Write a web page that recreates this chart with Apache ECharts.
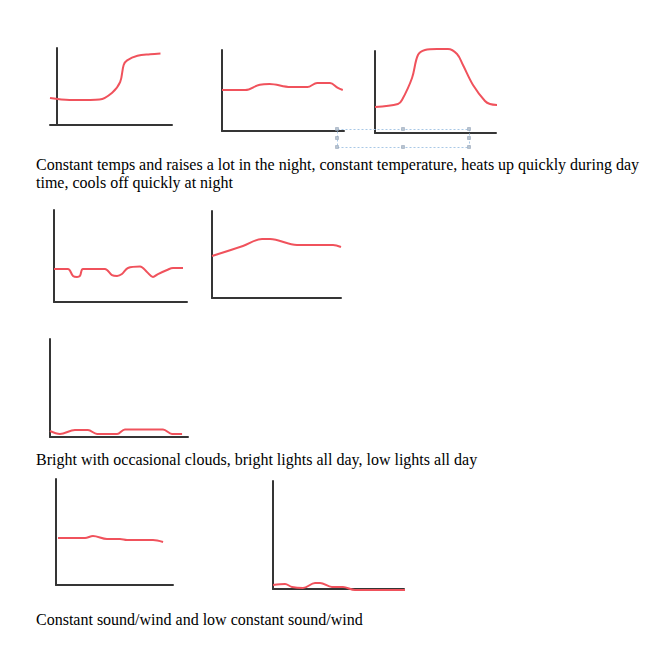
<!DOCTYPE html>
<html>
<head>
<meta charset="utf-8">
<script src="https://cdn.jsdelivr.net/npm/echarts@6/dist/echarts.min.js"></script>
<style>
html,body{margin:0;padding:0;background:#fff;}
#c{width:647px;height:653px;}
</style>
</head>
<body>
<div id="c"></div>
<script>
// ---- data (x: time 0-100, y: level 0-100) ----
const tempNightRise = [[-6,35],[11,32.5],[29,32.5],[37,33],[48,42],[55,56],[58,78],[61,84],[70,90],[81,92],[90,93]];
const tempConstant = [[0,50.6],[19,50.6],[31,57.2],[39,58],[56,54.3],[70,54.3],[78,59.3],[88.5,59.3],[95,53.1],[99,50.6]];
const tempDayHeat = [[0,31.7],[19,35.4],[22.3,40.2],[30.6,67.1],[35.5,95.1],[41.3,101.2],[51.2,102.4],[60.3,102.4],[67.8,96.3],[72.7,82.9],[81,58.5],[90.9,39],[95,35.4],[101.7,34.1]];
const lightClouds = [[0,35.9],[10.5,35.9],[14.3,28.3],[17.3,27.2],[19.5,28.3],[21.8,35.9],[38.3,35.9],[43.6,29.3],[47.4,28.3],[51.1,30.4],[55.6,37],[64.7,38.6],[69.9,32.6],[74.4,27.2],[78.2,30.4],[85,34.8],[89.5,37],[97,37]];
const lightBright = [[0,48.3],[24,59.8],[38.8,67.8],[45,67.8],[65.9,60.9],[93.8,60.9],[100,58.6]];
const lightLow = [[0,6.1],[7.2,3.1],[18.1,7.1],[27.5,7.1],[34.1,3.1],[48.6,3.1],[54.3,7.7],[81.9,7.7],[88.4,3.1],[95.7,3.1]];
const soundConstant = [[1.7,44.3],[24.8,44.3],[31.6,46.2],[43.6,43.4],[54.7,43.4],[60.7,42.5],[82.9,42.5],[91.5,40.6]];
const soundLow = [[0,3.7],[9.2,4.6],[14.5,1.9],[22.9,0.9],[32.1,5.6],[35.9,5.6],[45,1.9],[53.4,1.9],[62.6,-0.9],[106.9,-0.9]];

const captions = [
  "Constant temps and raises a lot in the night, constant temperature, heats up quickly during day\ntime, cools off quickly at night",
  "Bright with occasional clouds, bright lights all day, low lights all day",
  "Constant sound/wind and low constant sound/wind"
];

const seriesData = [tempNightRise, tempConstant, tempDayHeat, lightClouds, lightBright, lightLow, soundConstant, soundLow];
// panel layout
const panels = [
  {left:50, top:48, width:122, height:77, xMin:-6, yOffset:-7},
  {left:222, top:50, width:122, height:81, xMin:0, yOffset:0},
  {left:375, top:51, width:121, height:82, xMin:0, yOffset:0},
  {left:54, top:210, width:133, height:92, xMin:0, yOffset:0},
  {left:212, top:211, width:129, height:87, xMin:0, yOffset:0},
  {left:50, top:339, width:138, height:98, xMin:0, yOffset:0},
  {left:56, top:479, width:117, height:106, xMin:0, yOffset:0},
  {left:273, top:481, width:131, height:108, xMin:0, yOffset:0}
];

const axisLine = {show:true, onZero:false, lineStyle:{color:'#353535', width:2}};
const grid = [], xAxis = [], yAxis = [], series = [];
panels.forEach((p, i) => {
  grid.push({left:p.left, top:p.top, width:p.width, height:p.height, containLabel:false});
  xAxis.push({type:'value', gridIndex:i, min:p.xMin, max:100, axisLine:axisLine,
    axisTick:{show:false}, axisLabel:{show:false}, splitLine:{show:false}});
  yAxis.push({type:'value', gridIndex:i, min:0, max:100, offset:p.yOffset, axisLine:axisLine,
    axisTick:{show:false}, axisLabel:{show:false}, splitLine:{show:false}});
  series.push({type:'line', xAxisIndex:i, yAxisIndex:i, data:seriesData[i], smooth:0.35, showSymbol:false,
    clip:false, lineStyle:{color:'#f0525c', width:2}, silent:true});
});

const textStyle = {fill:'#000', font:'16px "Liberation Serif", "Times New Roman", serif'};
const graphic = [
  {type:'text', left:36, top:155, style:Object.assign({text:captions[0], lineHeight:18}, textStyle)},
  {type:'text', left:36, top:451, style:Object.assign({text:captions[1]}, textStyle)},
  {type:'text', left:36, top:611, style:Object.assign({text:captions[2]}, textStyle)},
  // selection box artifact
  {type:'rect', shape:{x:337.5, y:129.5, width:132, height:18}, style:{fill:'none', stroke:'#a9c8e6', lineWidth:1, lineDash:[2,2]}, z:1}
];
[[337,129],[403,129],[469,129],[337,138],[469,138],[337,147],[403,147],[469,147]].forEach(h => {
  graphic.push({type:'rect', shape:{x:h[0]-1.5, y:h[1]-1.5, width:3, height:3}, style:{fill:'#b8c4d0', stroke:'#8a9bb0', lineWidth:0.5}, z:2});
});

const chart = echarts.init(document.getElementById('c'), null, {renderer:'svg'});
chart.setOption({animation:false, backgroundColor:'#fff', grid, xAxis, yAxis, series, graphic});
</script>
</body>
</html>
